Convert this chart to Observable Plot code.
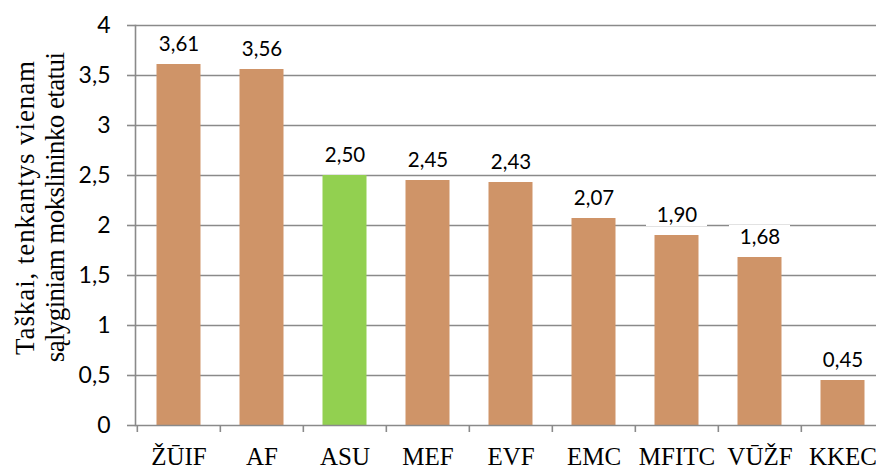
<!DOCTYPE html>
<html>
<head>
<meta charset="utf-8">
<script src="https://cdn.jsdelivr.net/npm/d3@7"></script>
<script src="https://cdn.jsdelivr.net/npm/@observablehq/plot@0.6"></script>
<style>
  html, body { margin: 0; padding: 0; background: #fff; }
</style>
</head>
<body>
<div id="chart"></div>
<script>
const categories = ["ŽŪIF", "AF", "ASU", "MEF", "EVF", "EMC", "MFITC", "VŪŽF", "KKEC"];
const values = [3.61, 3.56, 2.50, 2.45, 2.43, 2.07, 1.90, 1.68, 0.45];
const highlighted = ["ASU"];
const yTicks = [0, 0.5, 1, 1.5, 2, 2.5, 3, 3.5, 4];
const yTitle = "Taškai, tenkantys vienam\nsąlyginiam mokslininko etatui";

const data = categories.map((c, i) => ({cat: c, value: values[i], hi: highlighted.includes(c)}));
const comma = d => String(d).replace(".", ",");
const fmt2 = d => d.toFixed(2).replace(".", ",");

const gray = "#8a8a8a";
const numFont = "Lato, Open Sans, sans-serif";
const serif = "Liberation Serif, Times New Roman, serif";

const chart = Plot.plot({
  width: 876,
  height: 466,
  marginTop: 25,
  marginBottom: 41,
  marginLeft: 135,
  marginRight: 0,
  style: {background: "#fff", overflow: "hidden"},
  x: {type: "band", domain: categories, range: [135, 885], padding: 0},
  y: {domain: [0, 4]},
  marks: [
    Plot.ruleY(yTicks.filter(d => d > 0), {stroke: gray, strokeWidth: 1.4}),
    Plot.barY(data, {x: "cat", y: "value", fill: d => d.hi ? "#92D050" : "#CF9468", insetLeft: 19.5, insetRight: 19.5}),
    Plot.barY(data, {x: "cat", y1: d => d.value + 0.09, y2: d => d.value + 0.32, fill: "#fff", insetLeft: 11, insetRight: 11}),
    Plot.text(data, {x: "cat", y: d => d.value + 0.2, text: d => fmt2(d.value), fontSize: 20.5, fontFamily: numFont, fill: "#000"}),
    Plot.ruleY([0], {stroke: gray, strokeWidth: 1.6}),
    Plot.frame({anchor: "left", stroke: gray, strokeWidth: 1.6}),
    Plot.ruleX(categories, {x: d => d, y1: 0, y2: -0.07, dx: -750 / 18, stroke: gray, strokeWidth: 1.6}),
    Plot.axisY({ticks: yTicks, tickFormat: comma, tickSize: 8, tickPadding: 17, stroke: gray, strokeWidth: 1.6, fontSize: 23, fontFamily: numFont, fill: "#000", label: null}),
    Plot.axisX({tickSize: 0, tickPadding: 21.5, fontSize: 25, fontFamily: serif, fill: "#000", label: null}),
    Plot.text([yTitle], {frameAnchor: "left", textAnchor: "middle", lineAnchor: "middle", dx: -96, dy: -18, rotate: -90, fontSize: 27, fontFamily: serif, lineHeight: 1.12, fill: "#000"})
  ]
});
const titleText = d3.select(chart).selectAll("text").filter(function() { return this.textContent.startsWith("Taškai"); });
titleText.selectAll("tspan").each(function(d, i) {
  d3.select(this).style("letter-spacing", i === 0 ? "0.9px" : "-0.6px");
});
document.getElementById("chart").appendChild(chart);
</script>
</body>
</html>
